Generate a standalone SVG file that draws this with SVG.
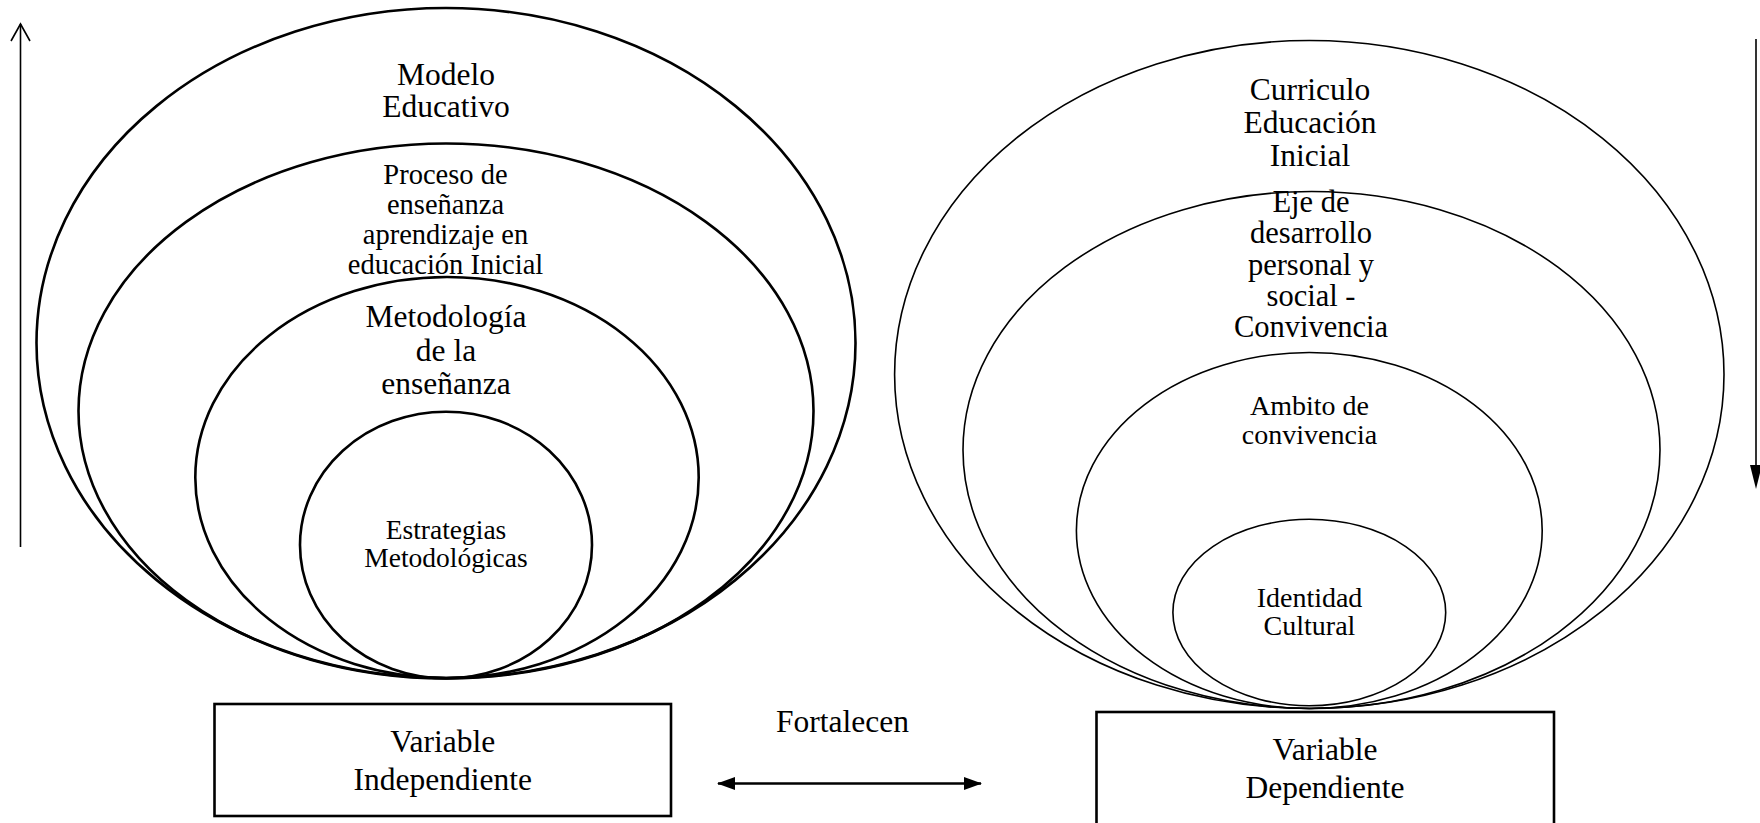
<svg xmlns="http://www.w3.org/2000/svg" width="1760" height="823" viewBox="0 0 1760 823">
<style>
text{font-family:"Liberation Serif","Times New Roman",serif;fill:#000;text-anchor:middle}
.l{fill:none;stroke:#000;stroke-width:2.6}
.r{fill:none;stroke:#000;stroke-width:1.6}
.box{fill:#fff;stroke:#000;stroke-width:2.6}
.ln{stroke:#000;fill:none}
</style>
<defs>
<marker id="fa" viewBox="0 0 18 13" refX="17" refY="6.5" markerWidth="18" markerHeight="13" markerUnits="userSpaceOnUse" orient="auto-start-reverse"><path d="M0,0 L18,6.5 L0,13 z" fill="#000"/></marker>
</defs>
<rect width="1760" height="823" fill="#fff"/>
<g id="left-outer"><ellipse class="l" cx="446" cy="343" rx="409.5" ry="335"/>
<text font-size="31.5" x="446" y="85">Modelo</text><text font-size="31.5" x="446" y="117">Educativo</text></g>
<g id="left-2"><ellipse class="l" cx="446" cy="411" rx="367.5" ry="267.5"/>
<text font-size="28.5" x="445.5" y="184">Proceso de</text><text font-size="28.5" x="445.5" y="214">enseñanza</text><text font-size="28.5" x="445.5" y="244">aprendizaje en</text><text font-size="28.5" x="445.5" y="274">educación Inicial</text></g>
<g id="left-3"><ellipse class="l" cx="447" cy="477.5" rx="251.7" ry="200.5"/>
<text font-size="31.5" x="446" y="327">Metodología</text><text font-size="31.5" x="446" y="361">de la</text><text font-size="31.5" x="446" y="394">enseñanza</text></g>
<g id="left-4"><ellipse class="l" cx="446" cy="545" rx="146" ry="133.3"/>
<text font-size="27.5" x="446" y="539">Estrategias</text><text font-size="27.5" x="446" y="567">Metodológicas</text></g>
<g id="right-outer"><ellipse class="r" cx="1309.3" cy="374.5" rx="414.7" ry="334"/>
<text font-size="31.5" x="1310" y="100">Curriculo</text><text font-size="31.5" x="1310" y="133">Educación</text><text font-size="31.5" x="1310" y="166">Inicial</text></g>
<g id="right-2"><ellipse class="r" cx="1311.5" cy="450" rx="348.5" ry="258.5"/>
<text font-size="30.5" x="1311" y="212">Eje de</text><text font-size="30.5" x="1311" y="243">desarrollo</text><text font-size="30.5" x="1311" y="274.5">personal y</text><text font-size="30.5" x="1311" y="306">social -</text><text font-size="30.5" x="1311" y="337">Convivencia</text></g>
<g id="right-3"><ellipse class="r" cx="1309.3" cy="530.5" rx="232.9" ry="178"/>
<text font-size="28" x="1309.5" y="415">Ambito de</text><text font-size="28" x="1309.5" y="443.5">convivencia</text></g>
<g id="right-4"><ellipse class="r" cx="1309.3" cy="612.5" rx="136.4" ry="93.2"/>
<text font-size="28" x="1309.5" y="607">Identidad</text><text font-size="28" x="1309.5" y="635">Cultural</text></g>
<g id="box-independiente"><rect class="box" x="214.5" y="704" width="456.5" height="112"/>
<text font-size="31.5" x="442.8" y="752">Variable</text><text font-size="31.5" x="442.8" y="790">Independiente</text></g>
<g id="box-dependiente"><rect class="box" x="1096.5" y="712" width="457.5" height="130"/>
<text font-size="31.5" x="1325" y="760">Variable</text><text font-size="31.5" x="1325" y="798">Dependiente</text></g>
<g id="label-fortalecen"><text font-size="31.5" x="842.5" y="732">Fortalecen</text></g>
<g id="connectors">
<line class="ln" stroke-width="2.4" x1="718" y1="783.5" x2="981" y2="783.5" marker-start="url(#fa)" marker-end="url(#fa)"/>
<line class="ln" stroke-width="1.6" x1="20.5" y1="547" x2="20.5" y2="24"/>
<polyline class="ln" stroke-width="1.6" points="11,41 20.5,24 30,41"/>
<line class="ln" stroke-width="1.6" x1="1756" y1="39" x2="1756" y2="470"/>
<path d="M1750,465 L1762,465 L1756,489 z" fill="#000"/>
</g>
</svg>
